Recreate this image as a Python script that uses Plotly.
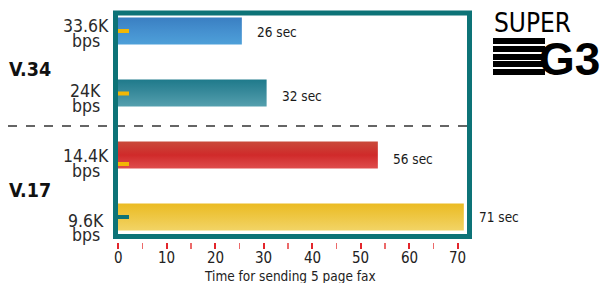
import plotly.graph_objects as go

# ---- data ----
categories = ["33.6K", "24K", "14.4K", "9.6K"]
unit = "bps"
groups = ["V.34", "V.17"]
bar_lengths = [25.5, 30.6, 53.5, 71.2]          # as drawn in the picture
time_labels = ["26 sec", "32 sec", "56 sec", "71 sec"]
bar_top_colors = ["#3a7fc2", "#1f7a8b", "#c94a3a", "#ebbb22"]
bar_mid_colors = ["#4590cf", "#3a8b9c", "#d02a2a", "#eec744"]
bar_bot_colors = ["#4ea0d9", "#55a0ae", "#df4d4d", "#f2d466"]
x_ticks = [0, 10, 20, 30, 40, 50, 60, 70]
x_tick_labels = ["0", "10", "20", "30", "40", "50", "60", "70"]
x_title = "Time for sending 5 page fax"

FONT = "DejaVu Sans Condensed, Liberation Sans Narrow, Liberation Sans, sans-serif"
TEAL = "#0d7377"

W, H = 604, 283
L, R, T, B = 118, 138, 15, 41
PW, PH = W - L - R, H - T - B
SPACING = 62.0
HALF = 0.2175


def px(xp):
    return (xp - L) / PW


def py(yp):
    return (H - B - yp) / PH


fig = go.Figure()
for i, (v, ct, cm, cb) in enumerate(zip(bar_lengths, bar_top_colors, bar_mid_colors, bar_bot_colors)):
    fig.add_trace(go.Scatter(
        x=[0, v, v, 0, 0], y=[i - HALF, i - HALF, i + HALF, i + HALF, i - HALF],
        mode="lines", line=dict(width=0), fill="toself",
        fillcolor=cm,
        fillgradient=dict(type="vertical", start=i - HALF, stop=i + HALF,
                          colorscale=[[0, ct], [0.5, cm], [1, cb]]),
        hoverinfo="skip", showlegend=False,
    ))

annotations = []
# value labels right of bars
label_shift = [1, 3, 3.5, 0]
for i, (v, t, s) in enumerate(zip(bar_lengths, time_labels, label_shift)):
    annotations.append(dict(x=v, y=i, xref="x", yref="y", text=t, showarrow=False,
                            xanchor="left", yanchor="middle", xshift=13, yshift=-s,
                            font=dict(family=FONT, size=13.5, color="#1a1a1a")))

# category labels (two lines)
top_shift = [-5, -2, 1, 3.5]
bot_shift = [9.5, 12.5, 15.5, 18]
for i, (c, a, b) in enumerate(zip(categories, top_shift, bot_shift)):
    annotations.append(dict(x=px(85.5), y=i, xref="paper", yref="y", text=c, showarrow=False,
                            xanchor="center", yanchor="middle", yshift=-a,
                            font=dict(family=FONT, size=17.5, color="#2a2a2a")))
    annotations.append(dict(x=px(85.5), y=i, xref="paper", yref="y", text=unit, showarrow=False,
                            xanchor="center", yanchor="middle", yshift=-b,
                            font=dict(family=FONT, size=17.5, color="#2a2a2a")))

# group labels
for g, yp in zip(groups, [69, 190]):
    annotations.append(dict(x=px(7), y=py(yp), xref="paper", yref="paper", text="<b>%s</b>" % g,
                            showarrow=False, xanchor="left", yanchor="middle",
                            font=dict(family=FONT, size=19.5, color="#111111")))

# x tick labels (placed through the x axis scale)
for xv, lab in zip(x_ticks, x_tick_labels):
    annotations.append(dict(x=xv, y=py(257.5), xref="x", yref="paper", text=lab,
                            showarrow=False, xanchor="center", yanchor="middle",
                            font=dict(family=FONT, size=15, color="#222222")))

# axis title
annotations.append(dict(x=px(290), y=py(276), xref="paper", yref="paper", text=x_title,
                        showarrow=False, xanchor="center", yanchor="middle",
                        font=dict(family=FONT, size=13.5, color="#222222")))

# logo
annotations.append(dict(x=px(492), y=py(23), xref="paper", yref="paper", text="SUPER",
                        showarrow=False, xanchor="left", yanchor="middle",
                        font=dict(family=FONT, size=26, color="#000000")))
annotations.append(dict(x=px(537), y=py(59), xref="paper", yref="paper", text="<b>G3</b>",
                        showarrow=False, xanchor="left", yanchor="middle",
                        font=dict(family="Liberation Sans, Arial, sans-serif", size=46, color="#000000")))

shapes = []
# speed lines of logo
for yp in [41, 49, 57, 64, 72]:
    shapes.append(dict(type="rect", xref="paper", yref="paper",
                       x0=px(493), x1=px(545), y0=py(yp - 3), y1=py(yp + 3),
                       fillcolor="#000000", line=dict(width=0), layer="above"))

# small tick marks on the bars
mark_colors = ["#f2b705", "#f2b705", "#f2b705", TEAL]
mark_shift = [0, 0.5, 9, 0]
for i, (col, s) in enumerate(zip(mark_colors, mark_shift)):
    yv = i + s / SPACING
    shapes.append(dict(type="line", xref="paper", yref="y", x0=px(115), x1=px(129),
                       y0=yv, y1=yv, line=dict(color=col, width=4), layer="above"))

# dashed separator
shapes.append(dict(type="line", xref="paper", yref="paper", x0=px(8), x1=px(470),
                   y0=py(126), y1=py(126), line=dict(color="#333333", width=1.5, dash="dash")))

# frame
shapes.append(dict(type="rect", xref="paper", yref="paper",
                   x0=px(115.5), x1=px(469.5), y0=py(236.5), y1=py(13),
                   line=dict(color=TEAL, width=5), fillcolor="rgba(0,0,0,0)", layer="above"))

fig.update_layout(
    width=W, height=H,
    margin=dict(l=L, r=R, t=T, b=B, pad=0),
    paper_bgcolor="white", plot_bgcolor="white",
    annotations=annotations,
    shapes=shapes,
    xaxis=dict(
        range=[0, PW / 4.857], tickvals=x_ticks, ticks="outside", ticklen=6, tickwidth=2,
        tickcolor="#e3262c", showgrid=False, zeroline=False, showline=False,
        showticklabels=False,
        minor=dict(dtick=5, tick0=0, ticks="outside", ticklen=6, tickwidth=1.5, tickcolor="#ec6a6a"),
        automargin=False, fixedrange=True,
    ),
    yaxis=dict(
        range=[-0.258 + PH / SPACING, -0.258], showticklabels=False, ticks="",
        showgrid=False, zeroline=False, showline=False, automargin=False, fixedrange=True,
    ),
)

fig.write_html("out.html", config={"displayModeBar": False, "staticPlot": True},
               post_script="document.body.style.margin='0px';")
